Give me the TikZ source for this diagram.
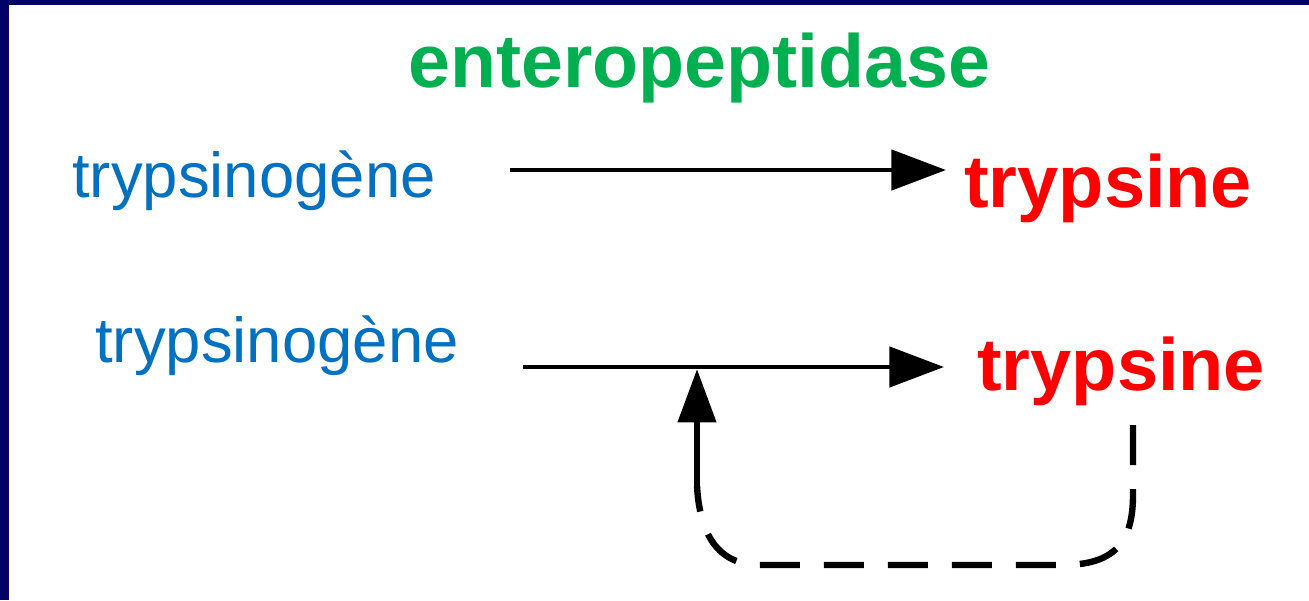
\documentclass[tikz,border=0pt]{standalone}
\usepackage{fontspec}
\setmainfont{Liberation Sans}
\usetikzlibrary{arrows.meta}
\definecolor{navy}{HTML}{000066}
\definecolor{enzgreen}{HTML}{00B050}
\definecolor{zymblue}{HTML}{0070C0}
\definecolor{actred}{HTML}{FF0000}
\begin{document}
\begin{tikzpicture}[x=0.75pt,y=-0.75pt,
  enzlabel/.style={anchor=base west,inner sep=0pt,text=enzgreen,font=\fontsize{56.5pt}{60pt}\selectfont\bfseries},
  zymlabel/.style={anchor=base west,inner sep=0pt,text=zymblue,font=\fontsize{47.6pt}{52pt}\selectfont},
  actlabel/.style={anchor=base west,inner sep=0pt,text=actred,font=\fontsize{55.5pt}{60pt}\selectfont\bfseries},
  react/.style={line width=3.6pt,-{Triangle[length=41pt,width=30pt]}},
  feedback/.style={line width=4.8pt,dash pattern=on 30pt off 18pt},
  upar/.style={line width=4.8pt,-{Triangle[length=40pt,width=28pt]}}]
\useasboundingbox (0,0) rectangle (1309,600);
\fill[white] (0,0) rectangle (1309,600);
\fill[navy] (0,0) rectangle (1309,5);
\fill[navy] (0,0) rectangle (9,600);
% labels
\node[enzlabel] (enz) at (408,87) {enteropeptidase};
\node[zymlabel] (zym1) at (72,197) {trypsinogène};
\node[actlabel] (act1) at (964,207) {trypsine};
\node[zymlabel] (zym2) at (95,362) {trypsinogène};
\node[actlabel] (act2) at (977,390) {trypsine};
% reaction arrows
\coordinate (r1s) at (510,170);
\coordinate (r1e) at (946,170);
\coordinate (r2s) at (523,367);
\coordinate (r2e) at (944,367);
\draw[react] (r1s) -- (r1e);
\draw[react] (r2s) -- (r2e);
% feedback loop
\coordinate (fbs) at (1133,425);
\coordinate (fbm) at (697,486);
\coordinate (fbe) at (697,369);
\draw[feedback] (fbs) -- (1133,495) .. controls (1133,545) and (1112,565) .. (1062,565)
  -- (760,565) .. controls (722,565) and (700,540) .. (fbm);
\draw[upar] (fbm) -- (fbe);
\end{tikzpicture}
\end{document}
